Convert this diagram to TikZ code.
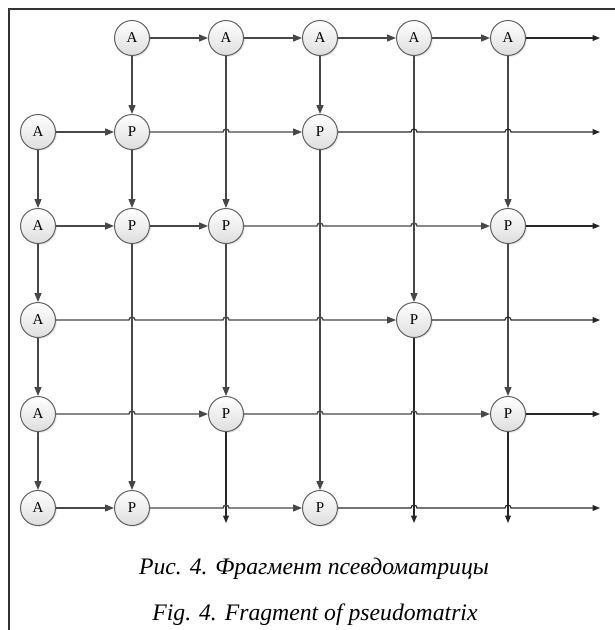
\documentclass[tikz,border=0pt]{standalone}
\usepackage{fontspec}
\setmainfont{Liberation Serif}
\usetikzlibrary{arrows.meta,shadows}
\begin{document}
\begin{tikzpicture}[x=1pt,y=-1pt,
  nd/.style={circle,draw=black!62,line width=1pt,minimum size=35pt,inner sep=0pt,
    top color=white,bottom color=black!13,
    drop shadow={opacity=0.22,shadow xshift=1.3pt,shadow yshift=-1.3pt},
    font=\fontsize{15}{17}\selectfont},
  conn/.style={draw=black!72,line width=1.35pt,-{Triangle[length=9pt,width=7pt]}},
  endconn/.style={draw=black!85,line width=1.15pt,-{Triangle[length=7.5pt,width=6pt]}},
  captxt/.style={font=\fontsize{23.7}{28}\selectfont\itshape,anchor=base,inner sep=0pt}
  ]
\useasboundingbox (0,0) rectangle (615,630);
\draw[line width=1.5pt,black!80] (9,632) -- (9,9) -- (617,9);

% top row A
\node[nd] (T1) at (132,38) {A};
\node[nd] (T2) at (226,38) {A};
\node[nd] (T3) at (320,38) {A};
\node[nd] (T4) at (414,38) {A};
\node[nd] (T5) at (508,38) {A};
% left column A
\node[nd] (L1) at (38,132) {A};
\node[nd] (L2) at (38,226) {A};
\node[nd] (L3) at (38,320) {A};
\node[nd] (L4) at (38,414) {A};
\node[nd] (L5) at (38,508) {A};
% P nodes
\node[nd] (P11) at (132,132) {P};
\node[nd] (P13) at (320,132) {P};
\node[nd] (P21) at (132,226) {P};
\node[nd] (P22) at (226,226) {P};
\node[nd] (P25) at (508,226) {P};
\node[nd] (P34) at (414,320) {P};
\node[nd] (P42) at (226,414) {P};
\node[nd] (P45) at (508,414) {P};
\node[nd] (P51) at (132,508) {P};
\node[nd] (P53) at (320,508) {P};
% free ends
\coordinate (E0) at (600,38);
\coordinate (E1) at (600,132);
\coordinate (E2) at (600,226);
\coordinate (E3) at (600,320);
\coordinate (E4) at (600,414);
\coordinate (E5) at (600,508);
\coordinate (B2) at (226,523);
\coordinate (B4) at (414,523);
\coordinate (B5) at (508,523);

% vertical connectors
\draw[conn] (L1) -- (L2);
\draw[conn] (L2) -- (L3);
\draw[conn] (L3) -- (L4);
\draw[conn] (L4) -- (L5);
\draw[conn] (T1) -- (P11);
\draw[conn] (P11) -- (P21);
\draw[conn] (P21) -- (P51);
\draw[conn] (T2) -- (P22);
\draw[conn] (P22) -- (P42);
\draw[endconn] (P42) -- (B2);
\draw[conn] (T3) -- (P13);
\draw[conn] (P13) -- (P53);
\draw[conn] (T4) -- (P34);
\draw[endconn] (P34) -- (B4);
\draw[conn] (T5) -- (P25);
\draw[conn] (P25) -- (P45);
\draw[endconn] (P45) -- (B5);

% horizontal connectors (with hops)
\draw[conn] (T1) -- (T2);
\draw[conn] (T2) -- (T3);
\draw[conn] (T3) -- (T4);
\draw[conn] (T4) -- (T5);
\draw[endconn] (T5) -- (E0);

\draw[conn] (L1) -- (P11);
\draw[conn] (P11) -- (223,132) arc[start angle=180,end angle=0,radius=3pt] -- (P13);
\draw[endconn] (P13) -- (411,132) arc[start angle=180,end angle=0,radius=3pt]
  -- (505,132) arc[start angle=180,end angle=0,radius=3pt] -- (E1);

\draw[conn] (L2) -- (P21);
\draw[conn] (P21) -- (P22);
\draw[conn] (P22) -- (317,226) arc[start angle=180,end angle=0,radius=3pt]
  -- (411,226) arc[start angle=180,end angle=0,radius=3pt] -- (P25);
\draw[endconn] (P25) -- (E2);

\draw[conn] (L3) -- (129,320) arc[start angle=180,end angle=0,radius=3pt]
  -- (223,320) arc[start angle=180,end angle=0,radius=3pt]
  -- (317,320) arc[start angle=180,end angle=0,radius=3pt] -- (P34);
\draw[endconn] (P34) -- (505,320) arc[start angle=180,end angle=0,radius=3pt] -- (E3);

\draw[conn] (L4) -- (129,414) arc[start angle=180,end angle=0,radius=3pt] -- (P42);
\draw[conn] (P42) -- (317,414) arc[start angle=180,end angle=0,radius=3pt]
  -- (411,414) arc[start angle=180,end angle=0,radius=3pt] -- (P45);
\draw[endconn] (P45) -- (E4);

\draw[conn] (L5) -- (P51);
\draw[conn] (P51) -- (223,508) arc[start angle=180,end angle=0,radius=3pt] -- (P53);
\draw[endconn] (P53) -- (411,508) arc[start angle=180,end angle=0,radius=3pt]
  -- (505,508) arc[start angle=180,end angle=0,radius=3pt] -- (E5);

% captions
\node[captxt] (c1) at (314,574) {Рис. 4. Фрагмент псевдоматрицы};
\node[captxt] (c2) at (315,620) {Fig. 4. Fragment of pseudomatrix};
\end{tikzpicture}
\end{document}
